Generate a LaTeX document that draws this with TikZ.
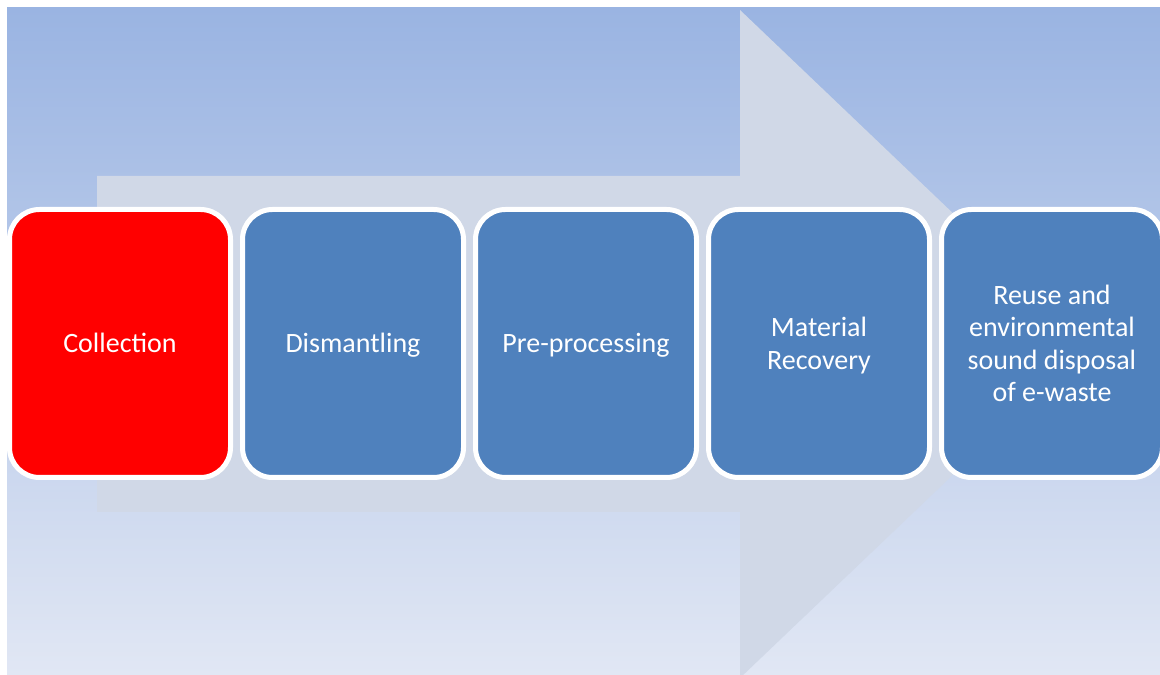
\documentclass[tikz,border=0pt]{standalone}
\usepackage{fontspec}
\setmainfont{Carlito}
\definecolor{bgtop}{HTML}{9AB4E2}
\definecolor{bgbot}{HTML}{E1E7F4}
\definecolor{arrowcol}{HTML}{D0D8E7}
\definecolor{boxblue}{HTML}{4F81BD}
\definecolor{boxred}{HTML}{FF0000}
\newcommand\mytopstrut{\rule{0pt}{28.75pt}}
\tikzset{
  stepbox/.style={rectangle, rounded corners=30pt, draw=white, line width=5pt,
    minimum width=221pt, minimum height=268pt, align=center, text=white,
    font=\fontsize{28}{32.5}\selectfont, inner sep=4pt},
  bluebox/.style={stepbox, fill=boxblue},
  redbox/.style={stepbox, fill=boxred}
}
\begin{document}
\begin{tikzpicture}[x=1pt,y=1pt]
\useasboundingbox (0,0) rectangle (1160,675);
\shade[top color=bgtop, bottom color=bgbot] (7,0) rectangle (1160,667);
\begin{scope}
\clip (7,0) rectangle (1160,667);
\fill[arrowcol] (97,499) -- (740,499) -- (740,665) -- (1090,331) -- (740,-3) -- (740,163) -- (97,163) -- cycle;
\end{scope}
\node[redbox]  (collection) at (120,331.5) {\mytopstrut\strut Collection};
\node[bluebox] (dismantling) at (353,331.5) {\mytopstrut\strut Dismantling};
\node[bluebox] (preproc) at (586,331.5) {\mytopstrut\strut Pre-processing};
\node[bluebox] (recovery) at (819,331.5) {\mytopstrut\strut Material\\\strut Recovery};
\node[bluebox] (reuse) at (1052,331.5) {\mytopstrut\strut Reuse and\\\strut environmental\\\strut sound disposal\\\strut of e-waste};
\end{tikzpicture}
\end{document}
